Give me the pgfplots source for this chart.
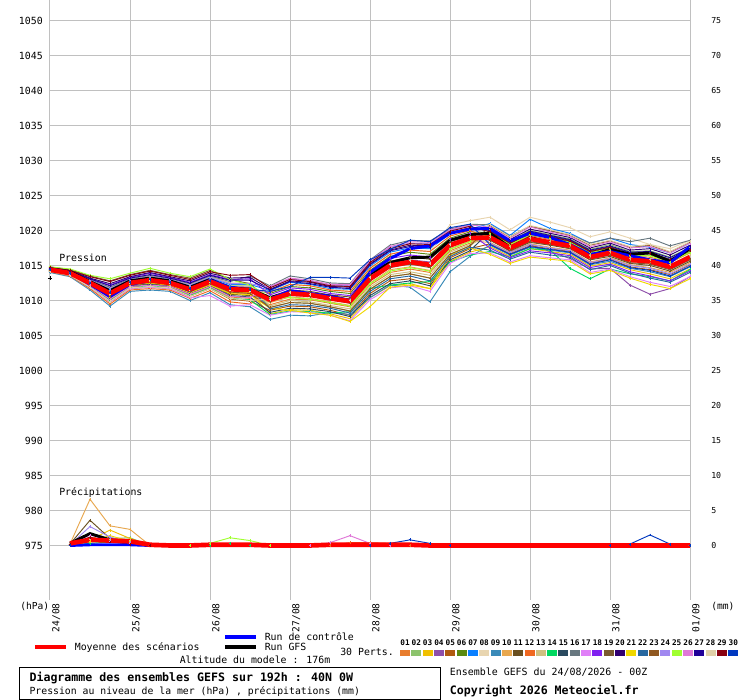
\documentclass[border=0pt]{standalone}
\usepackage{fontspec}
\setmainfont{DejaVu Sans Mono}
\usepackage{pgfplots}
\pgfplotsset{compat=1.18}
\definecolor{c01}{HTML}{E87D2D}
\definecolor{c02}{HTML}{8CC36C}
\definecolor{c03}{HTML}{F0C000}
\definecolor{c04}{HTML}{8E4FAA}
\definecolor{c05}{HTML}{B05A10}
\definecolor{c06}{HTML}{5A8A10}
\definecolor{c07}{HTML}{0A80FF}
\definecolor{c08}{HTML}{E8D5B0}
\definecolor{c09}{HTML}{3A8AB8}
\definecolor{c10}{HTML}{E8A850}
\definecolor{c11}{HTML}{6A5020}
\definecolor{c12}{HTML}{F06820}
\definecolor{c13}{HTML}{D0C080}
\definecolor{c14}{HTML}{00D860}
\definecolor{c15}{HTML}{2A4A60}
\definecolor{c16}{HTML}{687880}
\definecolor{c17}{HTML}{E080F8}
\definecolor{c18}{HTML}{8020F0}
\definecolor{c19}{HTML}{7A5A30}
\definecolor{c20}{HTML}{300070}
\definecolor{c21}{HTML}{F0D800}
\definecolor{c22}{HTML}{2868A0}
\definecolor{c23}{HTML}{905820}
\definecolor{c24}{HTML}{A088F0}
\definecolor{c25}{HTML}{A0FF30}
\definecolor{c26}{HTML}{E078D8}
\definecolor{c27}{HTML}{200098}
\definecolor{c28}{HTML}{E0D0A8}
\definecolor{c29}{HTML}{880010}
\definecolor{c30}{HTML}{0038C0}
\definecolor{gridgray}{HTML}{C0C0C0}
\definecolor{ctrlblue}{HTML}{0000FF}
\definecolor{meanred}{HTML}{FF0000}
\pgfplotsset{
  mem/.style={line width=0.7pt, mark=+, mark size=1.1pt},
  base/.style={at={(37.5pt,75pt)}, anchor=south west, scale only axis,
    width=480pt, height=450pt, xmin=0, xmax=32,
    axis line style={draw=none}, tick style={draw=none}, major tick length=0pt,
    /pgf/number format/assume math mode=true,
    /pgf/number format/set thousands separator={}},
}
\begin{document}
\begin{tikzpicture}[x=0.75pt,y=0.75pt]
\fill[white] (0,0) rectangle (740,700);
% ---------------- pressure ----------------
\begin{axis}[base, ymin=967.21, ymax=1052.93,
  xtick={0,4,8,12,16,20,24,28,32},
  xticklabels={24/08,25/08,26/08,27/08,28/08,29/08,30/08,31/08,01/09},
  ytick={975,980,...,1050},
  grid=major, major grid style={draw=gridgray, line width=0.75pt},
  xticklabel style={xshift=1.5pt, rotate=90, anchor=north east, inner sep=0pt, font=\fontsize{7.2}{8}\selectfont},
  xticklabel shift=2.25pt,
  yticklabel style={anchor=east, inner sep=0pt, font=\fontsize{7.4}{8}\selectfont},
  yticklabel shift=5.25pt]
\addplot[c01,mem] coordinates {(0,1014.2)(1,1013.7)(2,1012.0)(3,1010.1)(4,1011.9)(5,1012.2)(6,1011.9)(7,1010.8)(8,1011.9)(9,1010.5)(10,1010.3)(11,1009.4)(12,1010.2)(13,1010.1)(14,1009.6)(15,1009.1)(16,1012.2)(17,1014.0)(18,1014.5)(19,1014.0)(20,1017.1)(21,1018.2)(22,1019.4)(23,1017.9)(24,1019.3)(25,1018.7)(26,1018.2)(27,1016.6)(28,1017.3)(29,1016.3)(30,1016.2)(31,1015.4)(32,1016.8)};
\addplot[c02,mem] coordinates {(0,1014.5)(1,1014.0)(2,1012.7)(3,1011.5)(4,1012.8)(5,1013.3)(6,1012.8)(7,1012.0)(8,1013.1)(9,1012.1)(10,1012.1)(11,1009.0)(12,1009.7)(13,1009.6)(14,1009.1)(15,1008.5)(16,1011.6)(17,1013.4)(18,1013.8)(19,1013.2)(20,1016.6)(21,1017.8)(22,1020.1)(23,1018.5)(24,1020.0)(25,1019.4)(26,1018.8)(27,1017.3)(28,1018.0)(29,1017.0)(30,1017.1)(31,1016.2)(32,1017.6)};
\addplot[c03,mem] coordinates {(0,1014.3)(1,1013.8)(2,1012.3)(3,1010.7)(4,1012.3)(5,1012.7)(6,1012.3)(7,1011.3)(8,1012.4)(9,1011.2)(10,1011.1)(11,1008.1)(12,1008.7)(13,1008.6)(14,1008.1)(15,1007.4)(16,1010.4)(17,1012.1)(18,1012.4)(19,1011.7)(20,1015.6)(21,1016.9)(22,1017.7)(23,1016.3)(24,1017.4)(25,1017.0)(26,1016.6)(27,1014.9)(28,1015.4)(29,1014.4)(30,1013.8)(31,1013.1)(32,1014.5)};
\addplot[c04,mem] coordinates {(0,1014.5)(1,1014.0)(2,1012.7)(3,1011.3)(4,1012.7)(5,1013.1)(6,1012.7)(7,1011.9)(8,1013.0)(9,1012.0)(10,1011.9)(11,1010.3)(12,1011.3)(13,1011.1)(14,1010.5)(15,1010.2)(16,1013.4)(17,1015.3)(18,1015.8)(19,1015.5)(20,1018.2)(21,1019.1)(22,1018.9)(23,1017.0)(24,1018.0)(25,1017.0)(26,1016.0)(27,1014.5)(28,1014.6)(29,1012.2)(30,1010.9)(31,1011.7)(32,1013.4)};
\addplot[c05,mem] coordinates {(0,1014.2)(1,1013.6)(2,1011.9)(3,1009.8)(4,1011.7)(5,1011.9)(6,1011.7)(7,1010.6)(8,1011.7)(9,1010.2)(10,1009.9)(11,1008.6)(12,1009.2)(13,1009.1)(14,1008.6)(15,1007.9)(16,1011.0)(17,1012.8)(18,1013.1)(19,1012.4)(20,1016.1)(21,1017.4)(22,1018.1)(23,1016.7)(24,1017.8)(25,1017.4)(26,1017.0)(27,1015.3)(28,1015.9)(29,1014.8)(30,1014.4)(31,1013.7)(32,1015.1)};
\addplot[c06,mem] coordinates {(0,1014.4)(1,1013.9)(2,1012.6)(3,1011.2)(4,1012.6)(5,1013.0)(6,1012.6)(7,1011.7)(8,1012.8)(9,1011.8)(10,1011.7)(11,1011.0)(12,1012.0)(13,1011.8)(14,1011.3)(15,1011.0)(16,1014.3)(17,1016.3)(18,1016.9)(19,1016.6)(20,1018.9)(21,1019.8)(22,1019.7)(23,1018.1)(24,1019.5)(25,1019.0)(26,1018.4)(27,1016.9)(28,1017.5)(29,1016.5)(30,1016.5)(31,1015.6)(32,1017.0)};
\addplot[c07,mem] coordinates {(0,1014.5)(1,1014.1)(2,1012.8)(3,1011.6)(4,1012.9)(5,1013.4)(6,1012.9)(7,1012.1)(8,1013.2)(9,1012.3)(10,1012.3)(11,1011.4)(12,1012.6)(13,1012.3)(14,1011.7)(15,1011.6)(16,1014.9)(17,1016.9)(18,1017.5)(19,1017.4)(20,1019.5)(21,1020.2)(22,1021.0)(23,1019.3)(24,1021.6)(25,1020.3)(26,1019.6)(27,1018.2)(28,1018.9)(29,1018.0)(30,1017.6)(31,1016.8)(32,1018.2)};
\addplot[c08,mem] coordinates {(0,1014.4)(1,1013.9)(2,1012.4)(3,1010.9)(4,1012.4)(5,1012.8)(6,1012.4)(7,1011.5)(8,1012.6)(9,1011.4)(10,1011.3)(11,1011.2)(12,1012.3)(13,1012.1)(14,1011.5)(15,1011.3)(16,1014.6)(17,1016.6)(18,1017.2)(19,1017.0)(20,1020.8)(21,1021.4)(22,1021.9)(23,1020.1)(24,1021.9)(25,1021.2)(26,1020.4)(27,1019.1)(28,1019.8)(29,1018.9)(30,1018.0)(31,1017.4)(32,1018.6)};
\addplot[c09,mem] coordinates {(0,1014.0)(1,1013.4)(2,1011.5)(3,1009.2)(4,1011.3)(5,1011.5)(6,1011.3)(7,1010.0)(8,1011.1)(9,1009.4)(10,1009.1)(11,1007.3)(12,1007.9)(13,1007.8)(14,1008.3)(15,1008.0)(16,1010.4)(17,1012.2)(18,1011.9)(19,1009.8)(20,1014.1)(21,1016.3)(22,1017.9)(23,1016.5)(24,1017.6)(25,1017.2)(26,1016.8)(27,1015.1)(28,1015.6)(29,1014.6)(30,1014.1)(31,1013.4)(32,1014.8)};
\addplot[c10,mem] coordinates {(0,1014.3)(1,1013.8)(2,1012.3)(3,1010.6)(4,1012.2)(5,1012.5)(6,1012.2)(7,1011.2)(8,1012.3)(9,1011.1)(10,1010.9)(11,1009.7)(12,1010.5)(13,1010.3)(14,1009.8)(15,1009.3)(16,1012.5)(17,1014.4)(18,1014.8)(19,1014.3)(20,1017.4)(21,1018.5)(22,1018.3)(23,1016.9)(24,1018.1)(25,1017.6)(26,1017.2)(27,1015.5)(28,1016.1)(29,1015.1)(30,1014.7)(31,1014.0)(32,1015.4)};
\addplot[c11,mem] coordinates {(0,1014.3)(1,1013.7)(2,1012.2)(3,1010.4)(4,1012.1)(5,1012.4)(6,1012.1)(7,1011.1)(8,1012.2)(9,1010.9)(10,1010.7)(11,1010.5)(12,1011.5)(13,1011.3)(14,1010.8)(15,1010.5)(16,1013.7)(17,1015.6)(18,1016.2)(19,1015.9)(20,1018.4)(21,1019.3)(22,1018.6)(23,1017.1)(24,1018.3)(25,1017.9)(26,1017.4)(27,1015.8)(28,1016.3)(29,1015.3)(30,1015.0)(31,1014.2)(32,1015.6)};
\addplot[c12,mem] coordinates {(0,1014.1)(1,1013.5)(2,1011.7)(3,1009.5)(4,1011.5)(5,1011.7)(6,1011.5)(7,1010.3)(8,1011.4)(9,1009.8)(10,1009.5)(11,1011.2)(12,1012.3)(13,1012.1)(14,1011.5)(15,1011.3)(16,1014.6)(17,1016.6)(18,1017.2)(19,1017.0)(20,1019.2)(21,1020.0)(22,1018.8)(23,1017.3)(24,1018.6)(25,1018.1)(26,1017.6)(27,1016.0)(28,1016.6)(29,1015.6)(30,1015.3)(31,1014.5)(32,1015.9)};
\addplot[c13,mem] coordinates {(0,1014.6)(1,1014.1)(2,1012.9)(3,1011.8)(4,1013.0)(5,1013.5)(6,1013.0)(7,1012.3)(8,1013.4)(9,1012.5)(10,1012.5)(11,1009.2)(12,1010.0)(13,1009.8)(14,1009.3)(15,1008.8)(16,1011.9)(17,1013.7)(18,1014.1)(19,1013.6)(20,1016.9)(21,1018.0)(22,1019.2)(23,1017.7)(24,1019.0)(25,1018.5)(26,1018.0)(27,1016.4)(28,1017.0)(29,1016.0)(30,1015.9)(31,1015.1)(32,1016.5)};
\addplot[c14,mem] coordinates {(0,1014.2)(1,1013.6)(2,1011.9)(3,1010.0)(4,1011.8)(5,1012.1)(6,1011.8)(7,1010.7)(8,1011.8)(9,1010.3)(10,1010.1)(11,1008.0)(12,1008.5)(13,1008.4)(14,1008.2)(15,1008.4)(16,1011.7)(17,1012.2)(18,1012.5)(19,1012.7)(20,1015.5)(21,1016.5)(22,1017.0)(23,1016.2)(24,1017.4)(25,1017.2)(26,1014.6)(27,1013.1)(28,1014.5)(29,1013.8)(30,1013.4)(31,1012.8)(32,1014.4)};
\addplot[c15,mem] coordinates {(0,1014.3)(1,1013.7)(2,1012.1)(3,1010.3)(4,1012.0)(5,1012.3)(6,1012.0)(7,1011.0)(8,1012.1)(9,1010.7)(10,1010.5)(11,1008.3)(12,1008.9)(13,1008.8)(14,1008.4)(15,1007.7)(16,1010.7)(17,1012.4)(18,1012.8)(19,1012.1)(20,1015.8)(21,1017.1)(22,1019.9)(23,1018.3)(24,1019.8)(25,1019.2)(26,1018.6)(27,1017.1)(28,1017.7)(29,1016.8)(30,1016.8)(31,1015.9)(32,1017.3)};
\addplot[c16,mem] coordinates {(0,1014.6)(1,1014.1)(2,1013.0)(3,1011.9)(4,1013.1)(5,1013.6)(6,1013.1)(7,1012.4)(8,1013.5)(9,1012.7)(10,1013.5)(11,1012.1)(12,1013.5)(13,1013.1)(14,1012.5)(15,1012.4)(16,1015.8)(17,1017.9)(18,1018.6)(19,1018.5)(20,1020.2)(21,1020.9)(22,1020.8)(23,1019.2)(24,1020.6)(25,1019.9)(26,1019.4)(27,1018.2)(28,1018.9)(29,1018.4)(30,1018.9)(31,1017.8)(32,1018.6)};
\addplot[c17,mem] coordinates {(0,1014.2)(1,1013.6)(2,1011.9)(3,1009.8)(4,1011.7)(5,1011.9)(6,1011.7)(7,1010.4)(8,1010.7)(9,1009.2)(10,1009.4)(11,1007.9)(12,1008.4)(13,1008.3)(14,1007.9)(15,1007.1)(16,1010.1)(17,1011.8)(18,1012.1)(19,1011.3)(20,1015.3)(21,1016.7)(22,1016.8)(23,1015.5)(24,1016.4)(25,1016.1)(26,1015.8)(27,1014.0)(28,1014.5)(29,1013.4)(30,1012.6)(31,1012.0)(32,1013.4)};
\addplot[c18,mem] coordinates {(0,1014.6)(1,1014.2)(2,1013.1)(3,1012.2)(4,1013.3)(5,1013.9)(6,1013.3)(7,1012.6)(8,1013.7)(9,1013.0)(10,1013.1)(11,1010.8)(12,1011.8)(13,1011.6)(14,1011.0)(15,1010.7)(16,1014.0)(17,1016.0)(18,1016.5)(19,1016.2)(20,1018.7)(21,1019.6)(22,1017.5)(23,1016.1)(24,1017.1)(25,1016.8)(26,1016.4)(27,1014.7)(28,1015.2)(29,1014.1)(30,1013.5)(31,1012.8)(32,1014.2)};
\addplot[c19,mem] coordinates {(0,1014.8)(1,1014.4)(2,1013.5)(3,1012.8)(4,1013.7)(5,1014.3)(6,1013.7)(7,1013.2)(8,1014.3)(9,1013.0)(10,1012.4)(11,1009.9)(12,1010.7)(13,1010.6)(14,1010.1)(15,1009.6)(16,1012.8)(17,1014.7)(18,1015.2)(19,1014.7)(20,1017.6)(21,1018.7)(22,1018.7)(23,1017.2)(24,1018.4)(25,1018.0)(26,1017.5)(27,1015.9)(28,1016.5)(29,1015.4)(30,1015.2)(31,1014.4)(32,1015.8)};
\addplot[c20,mem] coordinates {(0,1014.7)(1,1014.3)(2,1013.2)(3,1012.4)(4,1013.4)(5,1014.0)(6,1013.4)(7,1012.8)(8,1013.9)(9,1013.2)(10,1013.3)(11,1011.6)(12,1012.8)(13,1012.6)(14,1012.0)(15,1011.9)(16,1015.2)(17,1017.2)(18,1017.9)(19,1017.8)(20,1019.7)(21,1020.4)(22,1020.3)(23,1018.7)(24,1020.2)(25,1019.6)(26,1019.0)(27,1017.5)(28,1018.2)(29,1017.2)(30,1017.4)(31,1016.5)(32,1017.9)};
\addplot[c21,mem] coordinates {(0,1014.3)(1,1013.8)(2,1012.2)(3,1010.5)(4,1012.2)(5,1012.5)(6,1012.2)(7,1011.1)(8,1012.2)(9,1011.0)(10,1010.8)(11,1008.9)(12,1008.6)(13,1008.2)(14,1007.9)(15,1007.0)(16,1009.1)(17,1011.9)(18,1012.2)(19,1011.7)(20,1016.5)(21,1017.5)(22,1016.6)(23,1015.3)(24,1016.2)(25,1015.9)(26,1015.6)(27,1013.8)(28,1014.3)(29,1013.2)(30,1012.3)(31,1011.7)(32,1013.1)};
\addplot[c22,mem] coordinates {(0,1014.5)(1,1014.0)(2,1012.6)(3,1011.2)(4,1012.7)(5,1013.1)(6,1012.7)(7,1011.8)(8,1012.9)(9,1011.9)(10,1011.8)(11,1008.8)(12,1009.4)(13,1009.3)(14,1008.9)(15,1008.2)(16,1011.3)(17,1013.1)(18,1013.5)(19,1012.8)(20,1016.3)(21,1017.6)(22,1017.2)(23,1015.9)(24,1016.9)(25,1016.5)(26,1016.2)(27,1014.4)(28,1015.0)(29,1013.9)(30,1013.2)(31,1012.6)(32,1014.0)};
\addplot[c23,mem] coordinates {(0,1014.3)(1,1013.8)(2,1012.3)(3,1010.6)(4,1012.3)(5,1012.6)(6,1012.3)(7,1011.3)(8,1012.4)(9,1011.2)(10,1011.0)(11,1009.0)(12,1009.7)(13,1009.6)(14,1009.1)(15,1008.5)(16,1011.6)(17,1013.4)(18,1013.8)(19,1013.2)(20,1016.6)(21,1017.8)(22,1020.7)(23,1019.0)(24,1020.6)(25,1020.0)(26,1019.3)(27,1017.9)(28,1018.5)(29,1017.6)(30,1017.9)(31,1016.9)(32,1018.3)};
\addplot[c24,mem] coordinates {(0,1014.5)(1,1014.1)(2,1012.9)(3,1011.7)(4,1013.0)(5,1013.4)(6,1013.0)(7,1012.2)(8,1013.3)(9,1012.4)(10,1012.4)(11,1011.9)(12,1013.1)(13,1012.8)(14,1012.2)(15,1012.1)(16,1015.5)(17,1017.6)(18,1018.2)(19,1018.1)(20,1020.0)(21,1020.7)(22,1018.2)(23,1016.8)(24,1018.0)(25,1017.5)(26,1017.1)(27,1015.4)(28,1016.0)(29,1015.0)(30,1014.6)(31,1013.8)(32,1015.2)};
\addplot[c25,mem] coordinates {(0,1014.8)(1,1014.5)(2,1013.6)(3,1013.1)(4,1013.9)(5,1014.6)(6,1013.9)(7,1013.4)(8,1014.5)(9,1013.0)(10,1012.2)(11,1010.4)(12,1010.4)(13,1010.2)(14,1009.7)(15,1009.2)(16,1012.4)(17,1014.2)(18,1014.7)(19,1014.2)(20,1017.3)(21,1018.4)(22,1019.6)(23,1018.0)(24,1019.4)(25,1018.9)(26,1018.3)(27,1016.8)(28,1017.4)(29,1016.4)(30,1016.4)(31,1015.5)(32,1016.9)};
\addplot[c26,mem] coordinates {(0,1014.2)(1,1013.7)(2,1012.1)(3,1010.2)(4,1012.0)(5,1012.2)(6,1012.0)(7,1010.9)(8,1012.0)(9,1010.6)(10,1010.4)(11,1012.0)(12,1013.2)(13,1012.9)(14,1012.3)(15,1012.3)(16,1015.7)(17,1017.7)(18,1018.4)(19,1018.3)(20,1020.1)(21,1020.8)(22,1020.5)(23,1018.9)(24,1020.5)(25,1019.8)(26,1019.2)(27,1017.7)(28,1018.4)(29,1017.5)(30,1017.7)(31,1016.8)(32,1018.2)};
\addplot[c27,mem] coordinates {(0,1014.6)(1,1014.2)(2,1013.1)(3,1012.1)(4,1013.2)(5,1013.7)(6,1013.2)(7,1012.5)(8,1013.6)(9,1012.9)(10,1012.9)(11,1011.5)(12,1012.7)(13,1012.4)(14,1011.9)(15,1011.7)(16,1015.1)(17,1017.1)(18,1017.7)(19,1017.6)(20,1019.6)(21,1020.3)(22,1020.0)(23,1018.4)(24,1019.9)(25,1019.3)(26,1018.7)(27,1017.2)(28,1017.8)(29,1016.9)(30,1017.0)(31,1016.1)(32,1017.5)};
\addplot[c28,mem] coordinates {(0,1014.2)(1,1013.6)(2,1011.9)(3,1009.9)(4,1011.8)(5,1012.0)(6,1011.8)(7,1010.6)(8,1011.7)(9,1010.3)(10,1010.0)(11,1010.2)(12,1011.1)(13,1010.9)(14,1010.4)(15,1010.0)(16,1013.3)(17,1015.2)(18,1015.7)(19,1015.3)(20,1018.0)(21,1019.0)(22,1020.8)(23,1019.1)(24,1020.7)(25,1020.1)(26,1019.4)(27,1018.0)(28,1018.6)(29,1017.7)(30,1018.0)(31,1017.0)(32,1018.4)};
\addplot[c29,mem] coordinates {(0,1014.7)(1,1014.3)(2,1013.4)(3,1012.7)(4,1013.6)(5,1014.2)(6,1013.6)(7,1013.0)(8,1014.1)(9,1013.6)(10,1013.7)(11,1011.8)(12,1013.0)(13,1012.7)(14,1012.1)(15,1012.0)(16,1015.4)(17,1017.4)(18,1018.1)(19,1018.0)(20,1019.9)(21,1020.6)(22,1019.8)(23,1018.2)(24,1019.6)(25,1019.1)(26,1018.5)(27,1017.0)(28,1017.6)(29,1016.6)(30,1016.7)(31,1015.8)(32,1017.2)};
\addplot[c30,mem] coordinates {(0,1014.4)(1,1013.9)(2,1012.5)(3,1011.1)(4,1012.6)(5,1013.0)(6,1012.6)(7,1011.7)(8,1012.8)(9,1011.7)(10,1011.6)(11,1011.3)(12,1012.0)(13,1013.3)(14,1013.3)(15,1013.2)(16,1015.8)(17,1017.3)(18,1018.6)(19,1018.4)(20,1020.4)(21,1020.9)(22,1018.0)(23,1016.6)(24,1017.7)(25,1017.3)(26,1016.9)(27,1015.2)(28,1015.8)(29,1014.7)(30,1014.3)(31,1013.5)(32,1014.9)};
% GFS run
\addplot[black, line width=2.2pt] coordinates {(0,1014.5)(1,1014.1)(2,1012.7)(3,1011.4)(4,1012.8)(5,1013.2)(6,1012.8)(7,1011.9)(8,1013.0)(9,1011.8)(10,1011.6)(11,1010.4)(12,1011.2)(13,1010.9)(14,1010.6)(15,1010.0)(16,1013.8)(17,1015.4)(18,1016.1)(19,1016.2)(20,1018.6)(21,1019.4)(22,1019.6)(23,1017.6)(24,1019.0)(25,1018.3)(26,1017.9)(27,1016.4)(28,1017.3)(29,1016.6)(30,1016.8)(31,1015.6)(32,1017.4)};
\addplot[black, only marks, mark=+, mark size=1.5pt] coordinates {(0,1013.2)};
% control run
\addplot[ctrlblue, line width=2.2pt] coordinates {(0,1014.5)(1,1014.0)(2,1012.3)(3,1010.6)(4,1012.3)(5,1012.8)(6,1012.6)(7,1011.4)(8,1012.9)(9,1011.9)(10,1011.4)(11,1010.2)(12,1011.4)(13,1011.0)(14,1010.6)(15,1010.0)(16,1014.0)(17,1016.0)(18,1017.4)(19,1017.8)(20,1019.6)(21,1020.2)(22,1020.3)(23,1018.5)(24,1019.6)(25,1019.0)(26,1018.0)(27,1016.6)(28,1017.0)(29,1016.4)(30,1015.8)(31,1015.4)(32,1017.7)};
% ensemble mean
\addplot[meanred, line width=3.5pt] coordinates {(0,1014.4)(1,1013.9)(2,1012.5)(3,1011.0)(4,1012.5)(5,1012.9)(6,1012.5)(7,1011.6)(8,1012.7)(9,1011.6)(10,1011.5)(11,1010.1)(12,1011.0)(13,1010.8)(14,1010.3)(15,1009.9)(16,1013.1)(17,1015.0)(18,1015.5)(19,1015.1)(20,1017.9)(21,1018.9)(22,1019.0)(23,1017.5)(24,1018.8)(25,1018.3)(26,1017.8)(27,1016.2)(28,1016.8)(29,1015.8)(30,1015.6)(31,1014.8)(32,1016.2)};
\end{axis}
% ---------------- precipitation ----------------
\begin{axis}[base, ymin=-7.79, ymax=77.93, hide x axis,
  ytick={0,5,...,75}, yticklabel pos=right,
  yticklabel style={anchor=west, inner sep=0pt, font=\fontsize{6.2}{7}\selectfont},
  yticklabel shift=15.75pt]
\addplot[c02,mem] coordinates {(1,0)(2,0.5)(3,1.0)(4,1.1)(5,0)(32,0)};
\addplot[c03,mem] coordinates {(1,0.1)(2,0.8)(3,2.2)(4,1.0)(5,0)(32,0)};
\addplot[c05,mem] coordinates {(1,0.1)(2,1.0)(3,0.7)(4,0.2)(5,0)(32,0)};
\addplot[c10,mem] coordinates {(1,0.2)(2,6.6)(3,2.8)(4,2.3)(5,0)(32,0)};
\addplot[c11,mem] coordinates {(1,0.2)(2,3.6)(3,1.0)(4,0.5)(5,0)(32,0)};
\addplot[c12,mem] coordinates {(1,0)(14,0)(15,0.4)(16,0.4)(17,0.3)(18,0)(32,0)};
\addplot[c13,mem] coordinates {(1,0)(2,0.9)(3,0.9)(4,0.7)(5,0)(32,0)};
\addplot[c14,mem] coordinates {(1,0)(2,0.3)(3,0.5)(4,0.3)(5,0)(8,0)(9,0.3)(10,0)(32,0)};
\addplot[c17,mem] coordinates {(1,0.1)(2,1.5)(3,0.6)(4,0.3)(5,0)(32,0)};
\addplot[c21,mem] coordinates {(1,0)(2,0.6)(3,1.4)(4,0.6)(5,0)(32,0)};
\addplot[c24,mem] coordinates {(1,0.1)(2,2.7)(3,1.2)(4,0.4)(5,0)(32,0)};
\addplot[c25,mem] coordinates {(1,0)(7,0)(8,0.3)(9,1.1)(10,0.7)(11,0)(32,0)};
\addplot[c26,mem] coordinates {(1,0)(13,0)(14,0.4)(15,1.4)(16,0.3)(17,0)(32,0)};
\addplot[c29,mem] coordinates {(1,0.2)(2,1.2)(3,0.5)(4,0.2)(5,0)(32,0)};
\addplot[c30,mem] coordinates {(1,0)(16,0)(17,0.3)(18,0.8)(19,0.3)(20,0)(28,0)(29,0.2)(30,1.5)(31,0.2)(32,0)};
\addplot[black, line width=2.2pt] coordinates {(1,0.3)(2,1.7)(3,0.8)(4,0.5)(5,0)(32,0)};
\addplot[ctrlblue, line width=2.2pt] coordinates {(1,0)(2,0.1)(3,0.1)(4,0.1)(5,0)(32,0)};
\addplot[meanred, line width=3.5pt] coordinates {(1,0.3)(2,0.8)(3,0.7)(4,0.6)(5,0.1)(6,0)(7,0)(8,0.1)(9,0.1)(10,0.1)(11,0)(12,0)(13,0)(14,0.1)(15,0.1)(16,0.1)(17,0.1)(18,0.1)(19,0)(32,0)};
\end{axis}
% ---------------- annotations ----------------
\node[anchor=base west, inner sep=0pt, font=\fontsize{7.4}{8}\selectfont] at (59,438.5) {Pression};
\node[anchor=base west, inner sep=0pt, font=\fontsize{7.4}{8}\selectfont] at (59,204.5) {Précipitations};
\node[anchor=base west, inner sep=0pt, font=\fontsize{7.2}{8}\selectfont] at (20,90) {(hPa)};
\node[anchor=base west, inner sep=0pt, font=\fontsize{7.2}{8}\selectfont] at (711,90) {(mm)};
% legend
\draw[meanred, line width=3pt] (35,53) -- (66,53);
\node[anchor=base west, inner sep=0pt, font=\fontsize{7.4}{8}\selectfont] at (74.6,49) {Moyenne des scénarios};
\draw[ctrlblue, line width=3pt] (225,63) -- (255.5,63);
\node[anchor=base west, inner sep=0pt, font=\fontsize{7.4}{8}\selectfont] at (264.5,59.5) {Run de contrôle};
\draw[black, line width=3pt] (225,53) -- (255.5,53);
\node[anchor=base west, inner sep=0pt, font=\fontsize{7.4}{8}\selectfont] at (264.5,49.5) {Run GFS};
\node[anchor=base west, inner sep=0pt, font=\fontsize{7.4}{8}\selectfont] at (179.5,36) {Altitude du modele : 176m};
\node[anchor=base west, inner sep=0pt, font=\fontsize{7.4}{8}\selectfont] at (340,44.5) {30 Perts.};
\foreach \n [count=\k from 0] in {01,02,03,04,05,06,07,08,09,10,11,12,13,14,15,16,17,18,19,20,21,22,23,24,25,26,27,28,29,30}{
  \fill[c\n] ({400+11.32*\k},44.3) rectangle ++(10,6);
  \node[anchor=base, inner sep=0pt, font=\fontsize{5.8}{6}\selectfont\bfseries] at ({405+11.32*\k},54.3) {\n};
}
% title box
\draw[black, line width=0.9pt] (19.8,0.7) rectangle (440.7,32.7);
\node[anchor=base west, inner sep=0pt, font=\fontsize{8.7}{9}\selectfont\bfseries] at (29.3,18.5) {Diagramme des ensembles GEFS sur 192h : 40N 0W};
\node[anchor=base west, inner sep=0pt, font=\fontsize{7.35}{8}\selectfont] at (29.3,5) {Pression au niveau de la mer (hPa) , précipitations (mm)};
\node[anchor=base west, inner sep=0pt, font=\fontsize{7.45}{8}\selectfont] at (449.7,24) {Ensemble GEFS du 24/08/2026 - 00Z};
\node[anchor=base west, inner sep=0pt, font=\fontsize{8.7}{9}\selectfont\bfseries] at (449.7,5.5) {Copyright 2026 Meteociel.fr};
\pgfresetboundingbox
\useasboundingbox (0,0) rectangle (740,700);
\end{tikzpicture}
\end{document}
